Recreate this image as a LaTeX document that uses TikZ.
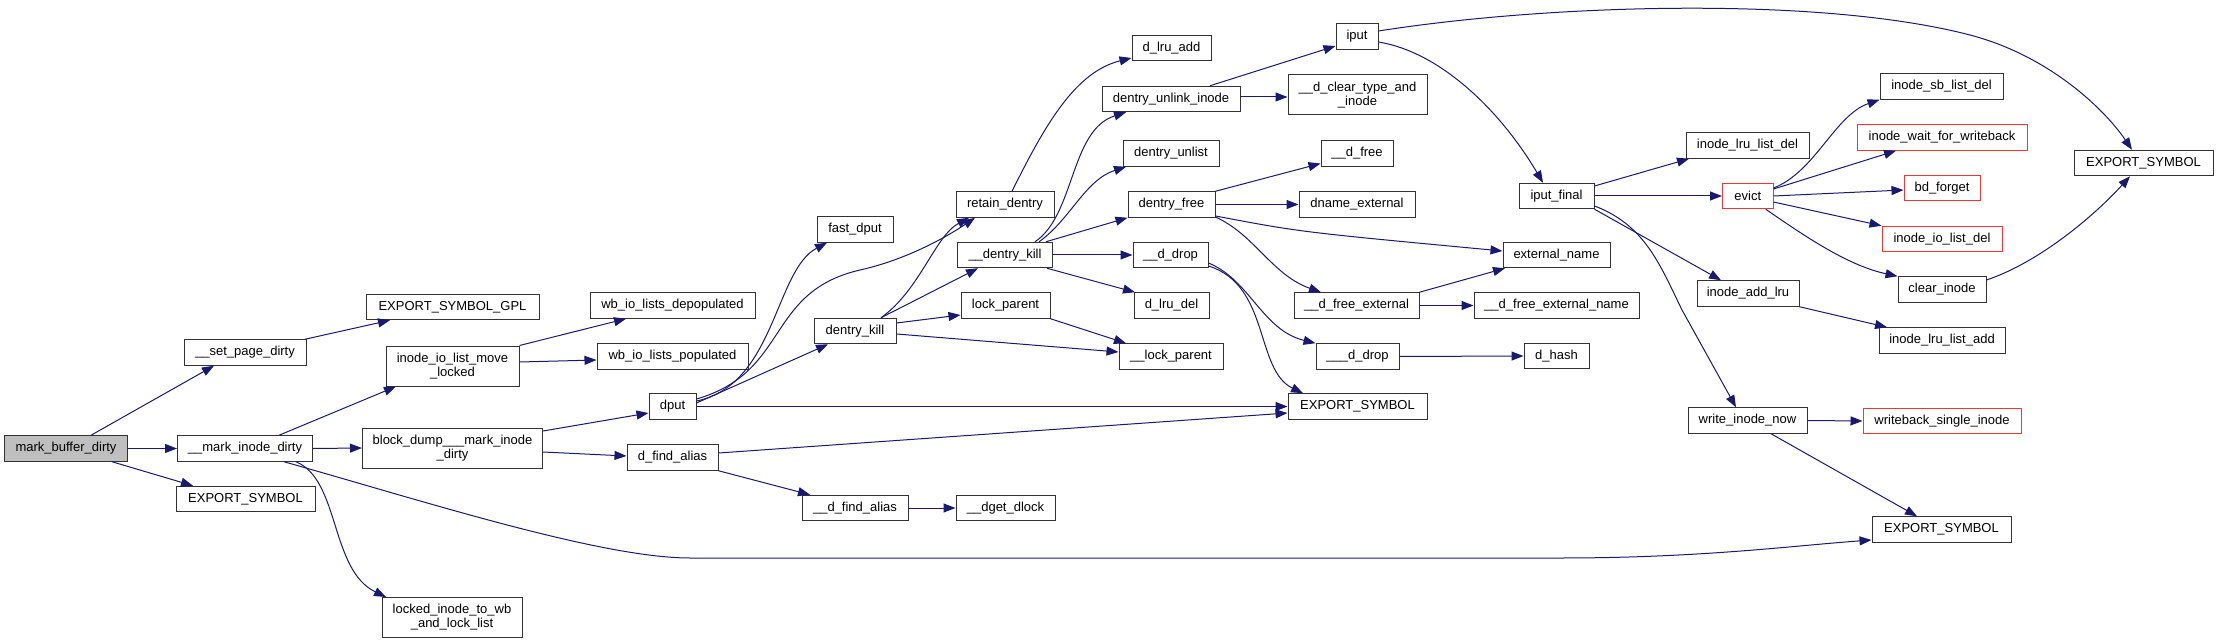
\documentclass[tikz,border=0pt]{standalone}
\usepackage{fontspec}
\setmainfont{Liberation Sans}
\usetikzlibrary{arrows.meta,calc}
\definecolor{edgeblue}{RGB}{25,25,112}
\definecolor{nodegray}{RGB}{191,191,191}
\definecolor{borderc}{RGB}{50,50,50}
\definecolor{trunc}{RGB}{255,50,50}
\begin{document}
\begin{tikzpicture}[x=1pt,y=-1pt,
  fn/.style={draw=borderc, line width=1pt, fill=white, inner sep=0pt,
    font=\fontsize{13}{14}\selectfont, align=center, minimum height=25.5pt},
  tall/.style={minimum height=40pt},
  red/.style={draw=trunc},
  e/.style={draw=edgeblue, line width=1pt, -{Triangle[length=12pt,width=9pt]}}]
\useasboundingbox[fill=white] (0,0) rectangle (2219,644);
% rank 0
\node[fn, fill=nodegray, minimum width=123pt] (mbd) at (66,448.5) {mark\_buffer\_dirty};
% rank 1
\node[fn, minimum width=122pt] (spd) at (245,352.5) {\_\_set\_page\_dirty};
\node[fn, minimum width=135pt] (mid) at (245,448.5) {\_\_mark\_inode\_dirty};
\node[fn, minimum width=139pt] (es1) at (245.5,499) {EXPORT\_SYMBOL};
% rank 2
\node[fn, minimum width=173pt] (gpl) at (452.5,307) {EXPORT\_SYMBOL\_GPL};
\node[fn, tall, minimum width=133pt] (iolm) at (452.5,366) {inode\_io\_list\_move\\\_locked};
\node[fn, tall, minimum width=180pt] (bdm) at (452.5,448) {block\_dump\_\_\_mark\_inode\\\_dirty};
\node[fn, tall, minimum width=140pt] (liw) at (452,617.5) {locked\_inode\_to\_wb\\\_and\_lock\_list};
% rank 3
\node[fn, minimum width=165pt] (wbd) at (672.5,305.5) {wb\_io\_lists\_depopulated};
\node[fn, minimum width=151pt] (wbp) at (672.5,356.5) {wb\_io\_lists\_populated};
\node[fn, minimum width=47pt] (dput) at (672.5,406.5) {dput};
\node[fn, minimum width=91pt] (dfa) at (672.5,457.5) {d\_find\_alias};
% rank 4
\node[fn, minimum width=76pt] (fdput) at (855,229.5) {fast\_dput};
\node[fn, minimum width=82pt] (dk) at (855,331) {dentry\_kill};
\node[fn, minimum width=106pt] (ddfa) at (855,508) {\_\_d\_find\_alias};
% rank 5
\node[fn, minimum width=98pt] (rd) at (1005,204.5) {retain\_dentry};
\node[fn, minimum width=95pt] (udk) at (1005,255) {\_\_dentry\_kill};
\node[fn, minimum width=89pt] (lp) at (1005.5,305.5) {lock\_parent};
\node[fn, minimum width=99pt] (dgd) at (1005.5,508) {\_\_dget\_dlock};
% rank 6
\node[fn, minimum width=79pt] (dla) at (1171.5,48) {d\_lru\_add};
\node[fn, minimum width=138pt] (dui) at (1171,99) {dentry\_unlink\_inode};
\node[fn, minimum width=96pt] (dul) at (1171,153.5) {dentry\_unlist};
\node[fn, minimum width=87pt] (dfr) at (1171.5,204.5) {dentry\_free};
\node[fn, minimum width=75pt] (udd) at (1170.5,255) {\_\_d\_drop};
\node[fn, minimum width=75pt] (dld) at (1171.5,305.5) {d\_lru\_del};
\node[fn, minimum width=104pt] (ulp) at (1171,356.5) {\_\_lock\_parent};
% rank 7
\node[fn, minimum width=42pt] (iput) at (1357,36.5) {iput};
\node[fn, tall, minimum width=139pt] (dct) at (1357.5,95) {\_\_d\_clear\_type\_and\\\_inode};
\node[fn, minimum width=72pt] (udf) at (1357,153.5) {\_\_d\_free};
\node[fn, minimum width=116pt] (dne) at (1357,204.5) {dname\_external};
\node[fn, minimum width=125pt] (dfe) at (1356.5,305.5) {\_\_d\_free\_external};
\node[fn, minimum width=83pt] (dd3) at (1357.5,356.5) {\_\_\_d\_drop};
\node[fn, minimum width=139pt] (es2) at (1357.5,406.5) {EXPORT\_SYMBOL};
% rank 8
\node[fn, minimum width=75pt] (ipf) at (1556.5,196) {iput\_final};
\node[fn, minimum width=107pt] (exn) at (1556.5,255) {external\_name};
\node[fn, minimum width=165pt] (dfen) at (1556.5,305.5) {\_\_d\_free\_external\_name};
\node[fn, minimum width=65pt] (dh) at (1556.5,356) {d\_hash};
% rank 9
\node[fn, minimum width=123pt] (ild) at (1747.5,145.5) {inode\_lru\_list\_del};
\node[fn, red, minimum width=50.5pt] (evict) at (1747.75,196) {evict};
\node[fn, minimum width=102pt] (ial) at (1748,293.5) {inode\_add\_lru};
\node[fn, minimum width=119pt] (win) at (1747.5,420.5) {write\_inode\_now};
% rank 10
\node[fn, minimum width=123pt] (isl) at (1941.5,86.5) {inode\_sb\_list\_del};
\node[fn, red, minimum width=170pt] (iww) at (1942,137.5) {inode\_wait\_for\_writeback};
\node[fn, red, minimum width=76pt] (bdf) at (1942,188) {bd\_forget};
\node[fn, red, minimum width=120pt] (iold) at (1942,239) {inode\_io\_list\_del};
\node[fn, minimum width=88pt] (ci) at (1942,289.5) {clear\_inode};
\node[fn, minimum width=126pt] (illa) at (1942,340.5) {inode\_lru\_list\_add};
\node[fn, red, minimum width=158pt] (wsi) at (1942,421) {writeback\_single\_inode};
\node[fn, minimum width=139pt] (es4) at (1941.5,529.5) {EXPORT\_SYMBOL};
% rank 11
\node[fn, minimum width=139pt] (es3) at (2143.5,163) {EXPORT\_SYMBOL};

% edges
\draw[e] ($(mbd.north)+(25,0)$) -- ($(spd.south)+(-31,0)$);
\draw[e] (mbd.east) -- (mid.west);
\draw[e] ($(mbd.south)+(46,0)$) -- ($(es1.north)+(-52.5,0)$);
\draw[e] ($(spd.north)+(60,0)$) -- ($(gpl.south)+(-62.5,0)$);
\draw[e] ($(mid.north)+(34,0)$) -- ($(iolm.south)+(-56.5,0)$);
\draw[e] (mid.east) -- (bdm.west);
\draw[e] ($(mid.south)+(51,0)$) .. controls (340,480) and (330,570) .. ($(liw.north)+(-66,0)$);
\draw[e] ($(mid.south)+(39,0)$) .. controls (420,500) and (600,558) .. (690,558)
  -- (1560,558) .. controls (1700,558) and (1790,546) .. ($(es4.west)+(0,10.5)$);
\draw[e] (iolm.north east) -- ($(wbd.south)+(-46.5,0)$);
\draw[e] ($(iolm.east)+(0,-4)$) -- ($(wbp.west)+(0,3.5)$);
\draw[e] ($(bdm.east)+(0,-17)$) -- ($(dput.west)+(0,6.5)$);
\draw[e] ($(bdm.east)+(0,4)$) -- ($(dfa.west)+(0,-1.5)$);
% dput
\draw[e] ($(dput.east)+(0,-5.5)$) .. controls (775,385) and (775,270) .. ($(fdput.south)+(-28,0)$);
\draw[e] ($(dput.east)+(0,-7.5)$) .. controls (790,372) and (765,292) .. (860,270)
  .. controls (905,260) and (945,238) .. ($(rd.south)+(-30,0)$);
\draw[e] ($(dput.east)+(0,-3.5)$) -- ($(dk.south)+(-27,0)$);
\draw[e] (dput.east) -- (es2.west);
\draw[e] ($(dfa.east)+(0,-4.5)$) -- ($(es2.west)+(0,6.5)$);
\draw[e] (dfa.south east) -- ($(ddfa.north)+(-45,0)$);
\draw[e] (ddfa.east) -- (dgd.west);
% dentry_kill
\draw[e] ($(dk.north)+(26,0)$) .. controls (920,290) and (935,236) .. ($(rd.south)+(-36,0)$);
\draw[e] ($(dk.north)+(26,0)$) -- ($(udk.south)+(-27,0)$);
\draw[e] ($(dk.east)+(0,-8)$) -- ($(lp.west)+(0,9.5)$);
\draw[e] ($(dk.east)+(0,3)$) -- ($(ulp.west)+(0,-4.5)$);
\draw[e] (lp.south east) -- ($(ulp.north)+(-45,0)$);
% retain_dentry
\draw[e] ($(rd.north)+(7,0)$) .. controls (1045,125) and (1075,72) .. ($(dla.west)+(0,10)$);
% __dentry_kill
\draw[e] ($(udk.north)+(30,0)$) .. controls (1075,215) and (1070,130) .. ($(dui.south)+(-45,0)$);
\draw[e] ($(udk.north)+(34,0)$) .. controls (1070,220) and (1085,180) .. ($(dul.south)+(-45,0)$);
\draw[e] ($(udk.north)+(41,0)$) -- (dfr.south west);
\draw[e] (udk.east) -- (udd.west);
\draw[e] ($(udk.south)+(42,0)$) -- ($(dld.north)+(-36.5,0)$);
% dentry_unlink_inode
\draw[e] ($(dui.north)+(39,0)$) -- ($(iput.west)+(0,9.5)$);
\draw[e] ($(dui.east)+(0,-2)$) -- ($(dct.west)+(0,2)$);
% dentry_free
\draw[e] (dfr.north east) -- ($(udf.west)+(0,10)$);
\draw[e] (dfr.east) -- (dne.west);
\draw[e] ($(dfr.east)+(0,11.5)$) .. controls (1300,232) .. ($(exn.west)+(0,-4)$);
\draw[e] ($(dfr.east)+(0,12.5)$) .. controls (1255,235) and (1272,275) .. ($(dfe.north)+(-35.5,0)$);
% __d_drop
\draw[e] ($(udd.east)+(0,8)$) .. controls (1250,280) and (1262,330) .. (dd3.north west);
\draw[e] ($(udd.east)+(0,11)$) .. controls (1270,285) and (1255,370) .. ($(es2.north)+(-54.5,0)$);
% __d_free_external
\draw[e] (dfe.north east) -- ($(exn.south)+(-51.5,0)$);
\draw[e] (dfe.east) -- (dfen.west);
\draw[e] (dd3.east) -- (dh.west);
% iput
\draw[e] ($(iput.east)+(0,-5.5)$) .. controls (1550,4) and (1820,-4) .. (1970,35)
  .. controls (2050,56) and (2105,110) .. ($(es3.north)+(-11.5,0)$);
\draw[e] ($(iput.east)+(0,5.5)$) .. controls (1440,52) and (1500,110) .. ($(ipf.north)+(-13.5,0)$);
% iput_final
\draw[e] ($(ipf.east)+(0,-10)$) -- ($(ild.south)+(-58.5,0)$);
\draw[e] (ipf.east) -- (evict.west);
\draw[e] (ipf.south east) -- ($(ial.north)+(-27,0)$);
\draw[e] ($(ipf.east)+(0,10)$) .. controls (1645,225) and (1660,265) .. (1682,310)
  -- ($(win.north)+(-11.5,0)$);
% evict
\draw[e] ($(evict.east)+(0,-8)$) .. controls (1815,172) and (1835,115) .. (isl.south west);
\draw[e] ($(evict.east)+(0,-7)$) -- ($(iww.south)+(-46,0)$);
\draw[e] (evict.east) -- ($(bdf.west)+(0,2)$);
\draw[e] ($(evict.east)+(0,6)$) -- (iold.north west);
\draw[e] ($(evict.south)+(18,0)$) .. controls (1810,240) and (1850,266) .. (ci.north west);
\draw[e] ($(ci.east)+(0,-9.5)$) .. controls (2040,262) and (2095,215) .. ($(es3.south)+(-13.5,0)$);
\draw[e] (ial.south east) -- ($(illa.north)+(-55,0)$);
\draw[e] (win.east) -- (wsi.west);
\draw[e] ($(win.south)+(23.5,0)$) -- ($(es4.north)+(-24.5,0)$);
\end{tikzpicture}
\end{document}
